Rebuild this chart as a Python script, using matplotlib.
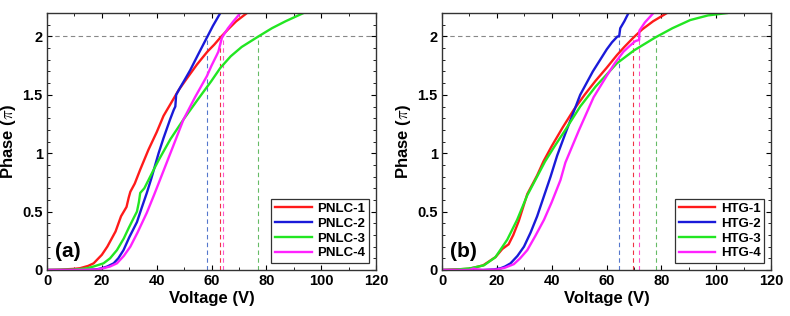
import numpy as np
import matplotlib
matplotlib.use("Agg")
import matplotlib.pyplot as plt
from matplotlib.ticker import MultipleLocator

plt.rcParams["font.family"] = ["Liberation Sans", "DejaVu Sans"]
plt.rcParams["font.weight"] = "bold"
plt.rcParams["mathtext.fontset"] = "cm"

# --- panel (a): PNLC ---
pnlc_labels = ["PNLC-1", "PNLC-2", "PNLC-3", "PNLC-4"]
pnlc1_v = [0, 5, 10, 12, 15, 17, 20, 22, 25, 27, 29, 29.8, 30.4, 32, 34, 37, 40, 42.5, 45, 48, 51, 54.7, 58.5, 61, 63.2, 66, 69, 72.9]
pnlc1_p = [0, 0.003, 0.01, 0.015, 0.035, 0.057, 0.13, 0.2, 0.33, 0.46, 0.54, 0.62, 0.67, 0.74, 0.86, 1.03, 1.18, 1.32, 1.42, 1.54, 1.64, 1.76, 1.87, 1.93, 1.99, 2.06, 2.13, 2.2]
pnlc2_v = [0, 10, 18, 20, 22, 24.3, 26, 27.9, 30, 32.8, 34.5, 36.4, 38, 40.7, 42.5, 44.9, 46.2, 46.8, 47.1, 48.5, 50, 52.2, 55, 58.3, 60.5, 63.2]
pnlc2_p = [0, 0, 0.005, 0.015, 0.03, 0.057, 0.1, 0.17, 0.28, 0.41, 0.53, 0.66, 0.78, 1.0, 1.13, 1.29, 1.37, 1.4, 1.5, 1.56, 1.62, 1.71, 1.84, 1.99, 2.09, 2.2]
pnlc3_v = [0, 10, 14.6, 17, 20.6, 23, 25.5, 28, 29.8, 31.5, 32.8, 33.5, 34, 35.5, 37, 38.5, 40.7, 45, 49.8, 55, 60, 63.2, 67, 71, 77.1, 82, 87, 93.5]
pnlc3_p = [0, 0.003, 0.015, 0.03, 0.057, 0.1, 0.17, 0.27, 0.36, 0.44, 0.5, 0.58, 0.66, 0.7, 0.77, 0.84, 0.94, 1.12, 1.29, 1.46, 1.62, 1.73, 1.83, 1.91, 2.0, 2.07, 2.13, 2.2]
pnlc4_v = [0, 10, 18, 20.6, 23, 25.5, 28, 30.4, 33, 36.4, 39, 42.5, 46, 49.8, 54, 58.3, 60, 61.9, 62.5, 63.8, 66, 68, 70.5]
pnlc4_p = [0, 0, 0.003, 0.015, 0.03, 0.057, 0.12, 0.2, 0.32, 0.49, 0.64, 0.85, 1.06, 1.29, 1.48, 1.66, 1.75, 1.84, 1.87, 1.99, 2.07, 2.13, 2.2]
pnlc_2pi_v = [58.5, 63.2, 64.1, 77.1]  # blue, red, magenta, green

# --- panel (b): HTG ---
htg_labels = ["HTG-1", "HTG-2", "HTG-3", "HTG-4"]
htg1_v = [0, 10, 15, 19.5, 22, 24.3, 26, 28, 31.1, 34.7, 37, 40, 44, 48, 52, 56, 60, 63.8, 66.5, 69.8, 73, 77, 82]
htg1_p = [0, 0.01, 0.04, 0.11, 0.18, 0.22, 0.3, 0.42, 0.65, 0.81, 0.93, 1.06, 1.22, 1.37, 1.5, 1.62, 1.73, 1.84, 1.91, 1.99, 2.06, 2.13, 2.2]
htg2_v = [0, 15, 19, 21.4, 23, 25, 27.5, 29.9, 32.3, 34.7, 37, 39.6, 42, 45, 50.4, 55, 60.1, 62, 64, 64.6, 65, 66.5, 68]
htg2_p = [0, 0, 0.005, 0.015, 0.03, 0.057, 0.12, 0.2, 0.32, 0.46, 0.62, 0.8, 0.98, 1.17, 1.5, 1.7, 1.89, 1.95, 2.0, 2.0, 2.07, 2.13, 2.2]
htg3_v = [0, 5, 10.4, 15.3, 19.5, 23.8, 27.4, 31.1, 34.7, 37.6, 40.8, 45, 50.4, 56, 63.8, 70, 77.7, 84, 90.5, 97, 103.9]
htg3_p = [0, 0.003, 0.015, 0.04, 0.11, 0.26, 0.43, 0.64, 0.8, 0.93, 1.05, 1.2, 1.4, 1.57, 1.77, 1.88, 1.99, 2.07, 2.14, 2.18, 2.2]
htg4_v = [0, 10, 11.5, 13, 15, 20.2, 23, 26.2, 28.5, 31.1, 34, 37.2, 40, 43.2, 45, 50, 55.3, 60, 63, 66.2, 68.5, 70.5, 71.9, 72, 74, 77.1]
htg4_p = [0, 0, 0.012, 0.005, 0, 0.005, 0.02, 0.05, 0.1, 0.17, 0.29, 0.43, 0.58, 0.77, 0.92, 1.2, 1.48, 1.66, 1.77, 1.87, 1.92, 1.96, 1.97, 2.05, 2.12, 2.2]
htg_2pi_v = [64.6, 69.8, 71.9, 78.0]  # blue, red, magenta, green

colors = ["#ff1a1a", "#1a1ad9", "#22e622", "#ff22ff"]
dash_colors = ["#5577cc", "#ee3344", "#ff55cc", "#66bb66"]  # blue, red, magenta, green


def draw_panel(ax, curves, labels, v2pi, tag):
    ax.axhline(2.0, color="#888888", lw=0.8, ls=(0, (4, 3)), zorder=1)
    for v, c in zip(v2pi, dash_colors):
        ax.plot([v, v], [0, 2.0], color=c, lw=0.8, ls=(0, (4, 3)), zorder=1)
    for (v, p), lab, c in zip(curves, labels, colors):
        ax.plot(v, p, color=c, lw=1.7, label=lab, zorder=2)

    ax.set_xlim(0, 120)
    ax.set_ylim(0, 2.2)
    ax.xaxis.set_major_locator(MultipleLocator(20))
    ax.xaxis.set_minor_locator(MultipleLocator(10))
    ax.yaxis.set_minor_locator(MultipleLocator(0.1))
    ax.set_yticks([0, 0.5, 1, 1.5, 2])
    ax.set_yticklabels(["0", "0.5", "1", "1.5", "2"])
    ax.tick_params(which="both", direction="in", top=True, right=True, labelsize=10.5, pad=3)
    ax.tick_params(which="major", length=3.5)
    ax.tick_params(which="minor", length=2)
    for s in ax.spines.values():
        s.set_linewidth(1.0)
        s.set_color("#333333")
    ax.set_xlabel("Voltage (V)", fontsize=12, fontweight="bold", labelpad=2)
    ax.set_ylabel(r"Phase ($\pi$)", fontsize=12, fontweight="bold", labelpad=3)
    ax.text(0.025, 0.035, tag, transform=ax.transAxes, fontsize=15, fontweight="bold",
            va="bottom", ha="left")
    leg = ax.legend(loc="lower right", fontsize=9.5, frameon=True, fancybox=False,
                    borderpad=0.3, handlelength=2.8, handletextpad=0.4, labelspacing=0.2,
                    borderaxespad=0.5)
    leg.get_frame().set_edgecolor("black")
    leg.get_frame().set_linewidth(0.9)
    for t in leg.get_texts():
        t.set_fontweight("bold")


fig = plt.figure(figsize=(7.9, 3.16), dpi=100)
ax1 = fig.add_axes([0.0595, 0.1456, 0.4165, 0.813])
ax2 = fig.add_axes([0.5595, 0.1456, 0.4165, 0.813])

draw_panel(ax1, [(pnlc1_v, pnlc1_p), (pnlc2_v, pnlc2_p), (pnlc3_v, pnlc3_p), (pnlc4_v, pnlc4_p)],
           pnlc_labels, pnlc_2pi_v, "(a)")
draw_panel(ax2, [(htg1_v, htg1_p), (htg2_v, htg2_p), (htg3_v, htg3_p), (htg4_v, htg4_p)],
           htg_labels, htg_2pi_v, "(b)")

fig.savefig("out.png", dpi=100)
